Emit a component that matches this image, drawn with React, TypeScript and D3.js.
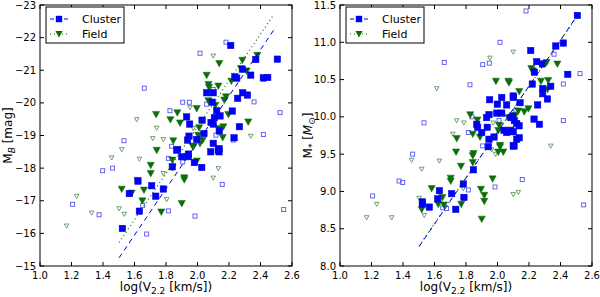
import React from "react";
import * as d3 from "d3";

// [log V2.2, M_B]
const clusterMB: [number, number][] = [
  [2.211, -21.76], [2.37, -21.33], [2.507, -21.34], [2.249, -20.76], [2.237, -20.8], [2.285, -21.03],
  [2.338, -20.85], [2.418, -20.77], [2.446, -20.78], [2.058, -20.31], [2.1, -20.31], [2.287, -20.31],
  [2.317, -20.24], [2.255, -20.14], [2.094, -20.02], [2.122, -19.76], [2.221, -19.75], [2.143, -19.6],
  [2.107, -19.55], [2.029, -19.47], [1.931, -19.57], [1.95, -19.35], [2.086, -19.4], [2.1, -19.35],
  [2.266, -19.27], [2.138, -19.14], [2.232, -18.93], [1.946, -18.98], [1.995, -18.88], [1.937, -18.86],
  [2.041, -19.06], [1.874, -18.57], [2.1, -18.76], [2.137, -18.6], [1.868, -18.55], [1.9, -18.35],
  [1.942, -18.43], [1.942, -18.35], [1.98, -18.17], [2.027, -18.02], [2.084, -18.5], [2.132, -18.55],
  [2.137, -18.5], [1.84, -18.04], [1.622, -17.6], [1.709, -17.46], [1.783, -17.36], [1.567, -17.22],
  [1.735, -17.14], [1.631, -16.68], [1.523, -16.15],
];
const clusterOpenMB: [number, number][] = [
  [2.181, -21.86], [2.016, -21.52], [1.662, -20.45], [1.906, -20.02], [1.948, -20.02], [2.1, -20.41],
  [1.825, -19.76], [2.058, -19.96], [2.359, -20.03], [2.524, -19.7], [2.418, -19.03], [2.117, -19.01],
  [1.533, -18.84], [1.398, -17.92], [1.461, -18.0], [1.207, -16.89], [1.375, -16.57], [1.652, -16.86],
  [1.815, -16.69], [1.984, -16.53], [1.677, -15.98], [1.815, -18.3], [1.906, -18.19], [2.157, -17.5],
  [2.547, -16.73], [1.836, -18.67], [2.227, -18.86], [2.418, -20.72],
];
const fieldMB: [number, number][] = [
  [2.38, -21.46], [2.285, -21.31], [2.138, -21.21], [2.058, -20.85], [2.312, -20.98], [2.276, -21.06],
  [2.215, -20.67], [2.07, -20.57], [2.073, -20.48], [2.132, -20.52], [2.181, -20.19], [2.069, -20.07],
  [2.113, -19.93], [1.995, -19.83], [2.17, -20.09], [1.737, -19.65], [1.872, -19.7], [1.828, -19.49],
  [1.889, -19.39], [2.196, -19.65], [2.164, -19.27], [2.322, -19.42], [2.138, -19.22], [2.01, -19.24],
  [2.16, -18.94], [2.005, -19.01], [1.846, -18.84], [2.033, -18.86], [2.016, -18.76], [1.741, -18.55],
  [1.969, -18.68], [1.84, -18.25], [1.973, -18.65], [1.995, -18.22], [1.703, -18.09], [1.703, -17.84],
  [1.842, -18.02], [1.916, -17.71], [1.916, -17.65], [1.582, -17.24], [1.519, -17.36], [1.66, -17.33],
  [1.65, -17.0], [1.77, -16.66], [1.9, -16.92], [1.62, -17.63],
];
const fieldOpenMB: [number, number][] = [
  [2.1, -21.44], [1.614, -19.49], [1.741, -19.23], [1.716, -18.91], [1.783, -18.88], [1.952, -19.86],
  [1.973, -19.22], [2.338, -18.98], [1.455, -18.32], [1.519, -18.57], [1.233, -17.14], [1.169, -16.23],
  [1.328, -16.63], [1.502, -16.76], [1.535, -16.59], [1.783, -17.84], [1.804, -17.04], [2.132, -17.99],
  [2.1, -17.7], [1.631, -18.28],
];

// [log V2.2, log M*]
const clusterMass: [number, number][] = [
  [2.507, 11.36], [2.37, 10.95], [2.418, 10.99], [2.211, 10.89], [2.249, 10.74], [2.285, 10.71],
  [2.234, 10.6], [2.446, 10.57], [2.221, 10.44], [2.338, 10.41], [2.287, 10.38], [2.287, 10.31],
  [2.317, 10.24], [2.255, 10.16], [2.143, 10.19], [2.1, 10.28], [2.1, 10.26], [2.027, 10.26],
  [1.95, 10.23], [1.999, 10.17], [2.058, 10.16], [1.995, 10.05], [2.027, 10.05], [2.094, 10.01],
  [1.931, 9.99], [1.946, 10.03], [1.868, 9.9], [2.122, 9.91], [2.137, 9.88], [2.107, 9.95],
  [2.086, 9.99], [2.232, 9.97], [2.266, 9.9], [1.9, 9.79], [1.874, 9.86], [1.935, 9.86],
  [2.041, 9.82], [2.058, 9.79], [2.084, 9.82], [2.1, 9.8], [2.138, 9.72], [2.122, 9.7],
  [1.946, 9.7], [1.978, 9.73], [2.1, 9.61], [1.942, 9.6], [2.105, 9.61], [1.847, 9.29],
  [1.783, 9.1], [1.709, 8.97], [1.787, 8.92], [1.631, 9.01], [1.62, 8.9], [1.523, 8.86],
  [1.523, 8.83], [1.567, 8.79], [1.735, 8.76],
];
const clusterOpenMass: [number, number][] = [
  [2.181, 11.42], [2.016, 11.0], [1.662, 10.73], [1.906, 10.7], [1.948, 10.72], [1.825, 10.43],
  [2.359, 10.84], [2.418, 10.44], [2.524, 10.58], [1.533, 9.92], [1.838, 10.0], [2.418, 9.95],
  [2.01, 9.95], [2.117, 10.09], [1.906, 9.61], [1.815, 9.79], [1.461, 9.5], [1.375, 9.14],
  [1.398, 9.12], [1.207, 8.94], [1.652, 8.78], [1.677, 8.77], [1.815, 9.02], [1.984, 9.06],
  [2.157, 9.16], [2.547, 8.82],
];
const fieldMass: [number, number][] = [
  [2.38, 10.71], [2.312, 10.73], [2.215, 10.65], [2.223, 10.62], [1.99, 10.48], [2.069, 10.48],
  [2.073, 10.46], [2.276, 10.48], [2.322, 10.49], [2.318, 10.37], [2.138, 10.34], [2.196, 10.11],
  [2.17, 10.07], [2.132, 10.08], [2.113, 10.02], [2.069, 9.99], [1.827, 10.03], [1.872, 9.96],
  [1.741, 9.71], [2.01, 9.89], [2.005, 9.82], [1.843, 9.77], [1.889, 9.73], [2.016, 9.62],
  [2.016, 9.6], [1.737, 9.53], [1.847, 9.51], [1.843, 9.48], [1.843, 9.39], [1.768, 9.34],
  [1.703, 9.18], [1.703, 9.14], [1.582, 9.04], [1.65, 8.92], [1.624, 8.83], [1.66, 8.82],
  [1.519, 8.76], [1.77, 8.83], [1.895, 9.03], [1.916, 8.95], [1.916, 8.87], [1.969, 9.17],
  [1.9, 8.63], [2.037, 9.53], [2.005, 9.53],
];
const fieldOpenMass: [number, number][] = [
  [2.1, 10.87], [1.952, 10.79], [1.614, 10.38], [1.741, 9.95], [1.787, 9.92], [1.716, 9.77],
  [1.973, 9.92], [2.338, 9.61], [1.455, 9.42], [1.519, 9.3], [1.631, 9.41], [1.233, 8.83],
  [1.169, 8.65], [1.328, 8.65], [1.502, 8.91], [1.535, 8.68], [1.783, 9.04], [1.963, 9.56],
  [1.988, 9.5], [2.1, 8.96], [2.132, 8.99],
];

// fit lines: [x0, y0, x1, y1]
const clusterFitMB = [1.502, -15.25, 2.498, -22.33];
const fieldFitMB = [1.502, -15.72, 2.486, -22.72];
const clusterFitMass = [1.502, 8.26, 2.507, 11.36];
const fieldFitMass = [1.502, 8.27, 2.5, 11.33];

const xTicks = [1.0, 1.2, 1.4, 1.6, 1.8, 2.0, 2.2, 2.4, 2.6];
const mbTicks = [-23, -22, -21, -20, -19, -18, -17, -16, -15];
const massTicks = [8.0, 8.5, 9.0, 9.5, 10.0, 10.5, 11.0, 11.5];

const BLUE = "#0000ff";
const GREEN = "#0b6e0b";
const FONT = "DejaVu Sans, sans-serif";

type Pt = [number, number];

function Panel(props: {
  left: number;
  yDomain: [number, number];
  yTicks: number[];
  yFmt: (v: number) => string;
  cluster: Pt[];
  clusterOpen: Pt[];
  field: Pt[];
  fieldOpen: Pt[];
  clusterFit: number[];
  fieldFit: number[];
  yLabel: React.ReactNode;
}) {
  const top = 5;
  const w = 252;
  const h = 261;
  const x = d3.scaleLinear().domain([1.0, 2.6]).range([0, w]);
  const y = d3.scaleLinear().domain(props.yDomain).range([h, 0]);
  const tri = (cx: number, cy: number, s: number) =>
    `M${cx - s},${cy - s * 0.8}L${cx + s},${cy - s * 0.8}L${cx},${cy + s}Z`;
  const line = d3.line<Pt>().x((d) => x(d[0])).y((d) => y(d[1]));
  const cf = props.clusterFit;
  const ff = props.fieldFit;
  const tl = 4;
  return (
    <g transform={`translate(${props.left},${top})`}>
      {/* open (excluded) points */}
      {props.clusterOpen.map((d, i) => (
        <rect key={"co" + i} x={x(d[0]) - 2} y={y(d[1]) - 2} width={4} height={4}
          fill="none" stroke="#5555ee" strokeWidth={0.9} />
      ))}
      {props.fieldOpen.map((d, i) => (
        <path key={"fo" + i} d={tri(x(d[0]), y(d[1]), 2.3)} fill="none" stroke="#4a8a4a" strokeWidth={0.8} />
      ))}
      {props.field.map((d, i) => (
        <path key={"f" + i} d={tri(x(d[0]), y(d[1]), 3.6)} fill={GREEN} stroke={GREEN} strokeWidth={0.5} />
      ))}
      {props.cluster.map((d, i) => (
        <rect key={"c" + i} x={x(d[0]) - 3.2} y={y(d[1]) - 3.2} width={6.4} height={6.4}
          fill={BLUE} stroke="#0000cc" strokeWidth={0.5} />
      ))}
      <path d={line([[ff[0], ff[1]], [ff[2], ff[3]]]) || ""} stroke={GREEN} strokeWidth={1.2}
        strokeDasharray="1,3" fill="none" />
      <path d={line([[cf[0], cf[1]], [cf[2], cf[3]]]) || ""} stroke="#0000cc" strokeWidth={1}
        strokeDasharray="5,4" fill="none" />

      {/* frame */}
      <rect x={0} y={0} width={w} height={h} fill="none" stroke="#000" strokeWidth={1} />
      {xTicks.map((t) => (
        <g key={"xt" + t}>
          <line x1={x(t)} x2={x(t)} y1={h} y2={h - tl} stroke="#000" />
          <line x1={x(t)} x2={x(t)} y1={0} y2={tl} stroke="#000" />
          <text x={x(t)} y={h + 13} textAnchor="middle" fontSize={10} fontFamily={FONT}>
            {t.toFixed(1)}
          </text>
        </g>
      ))}
      {props.yTicks.map((t) => (
        <g key={"yt" + t}>
          <line x1={0} x2={tl} y1={y(t)} y2={y(t)} stroke="#000" />
          <line x1={w} x2={w - tl} y1={y(t)} y2={y(t)} stroke="#000" />
          <text x={-4} y={y(t) + 3.5} textAnchor="end" fontSize={10} fontFamily={FONT}>
            {props.yFmt(t)}
          </text>
        </g>
      ))}
      <text x={w / 2} y={h + 25} textAnchor="middle" fontSize={12} fontFamily={FONT}>
        log(V<tspan fontSize={9} dy={2.5}>2.2</tspan><tspan dy={-2.5}> [km/s])</tspan>
      </text>
      <text transform={`translate(-28,${h / 2}) rotate(-90)`} textAnchor="middle" fontSize={12} fontFamily={FONT}>
        {props.yLabel}
      </text>

      {/* legend */}
      <g transform="translate(6,2)">
        <rect x={0} y={0} width={78} height={36} fill="#fff" stroke="#000" strokeWidth={1} />
        <line x1={4} x2={22} y1={12} y2={12} stroke="#0000cc" strokeDasharray="4,3" />
        <rect x={9.8} y={8.8} width={6.4} height={6.4} fill={BLUE} />
        <text x={36} y={16} fontSize={11} fontFamily={FONT}>Cluster</text>
        <line x1={4} x2={22} y1={27} y2={27} stroke={GREEN} strokeDasharray="1,3" strokeWidth={1.2} />
        <path d={tri(13, 27, 3.6)} fill={GREEN} />
        <text x={36} y={31} fontSize={11} fontFamily={FONT}>Field</text>
      </g>
    </g>
  );
}

export default function App() {
  return (
    <svg width={600} height={297} style={{ position: "absolute", left: 0, top: 0, background: "#fff" }}>
      <Panel
        left={40}
        yDomain={[-15, -23]}
        yTicks={mbTicks}
        yFmt={(v) => String(v).replace("-", "\u2212")}
        cluster={clusterMB}
        clusterOpen={clusterOpenMB}
        field={fieldMB}
        fieldOpen={fieldOpenMB}
        clusterFit={clusterFitMB}
        fieldFit={fieldFitMB}
        yLabel={
          <>
            M<tspan fontSize={9} dy={3} fontStyle="italic">B</tspan>
            <tspan dy={-3}> [mag]</tspan>
          </>
        }
      />
      <Panel
        left={340}
        yDomain={[8.0, 11.5]}
        yTicks={massTicks}
        yFmt={(v) => v.toFixed(1)}
        cluster={clusterMass}
        clusterOpen={clusterOpenMass}
        field={fieldMass}
        fieldOpen={fieldOpenMass}
        clusterFit={clusterFitMass}
        fieldFit={fieldFitMass}
        yLabel={
          <>
            M<tspan fontSize={9} dy={3}>*</tspan>
            <tspan dy={-3}> [</tspan>
            <tspan fontStyle="italic">M</tspan>
            <tspan fontSize={9} dy={3}>⊙</tspan>
            <tspan dy={-3}>]</tspan>
          </>
        }
      />
    </svg>
  );
}
